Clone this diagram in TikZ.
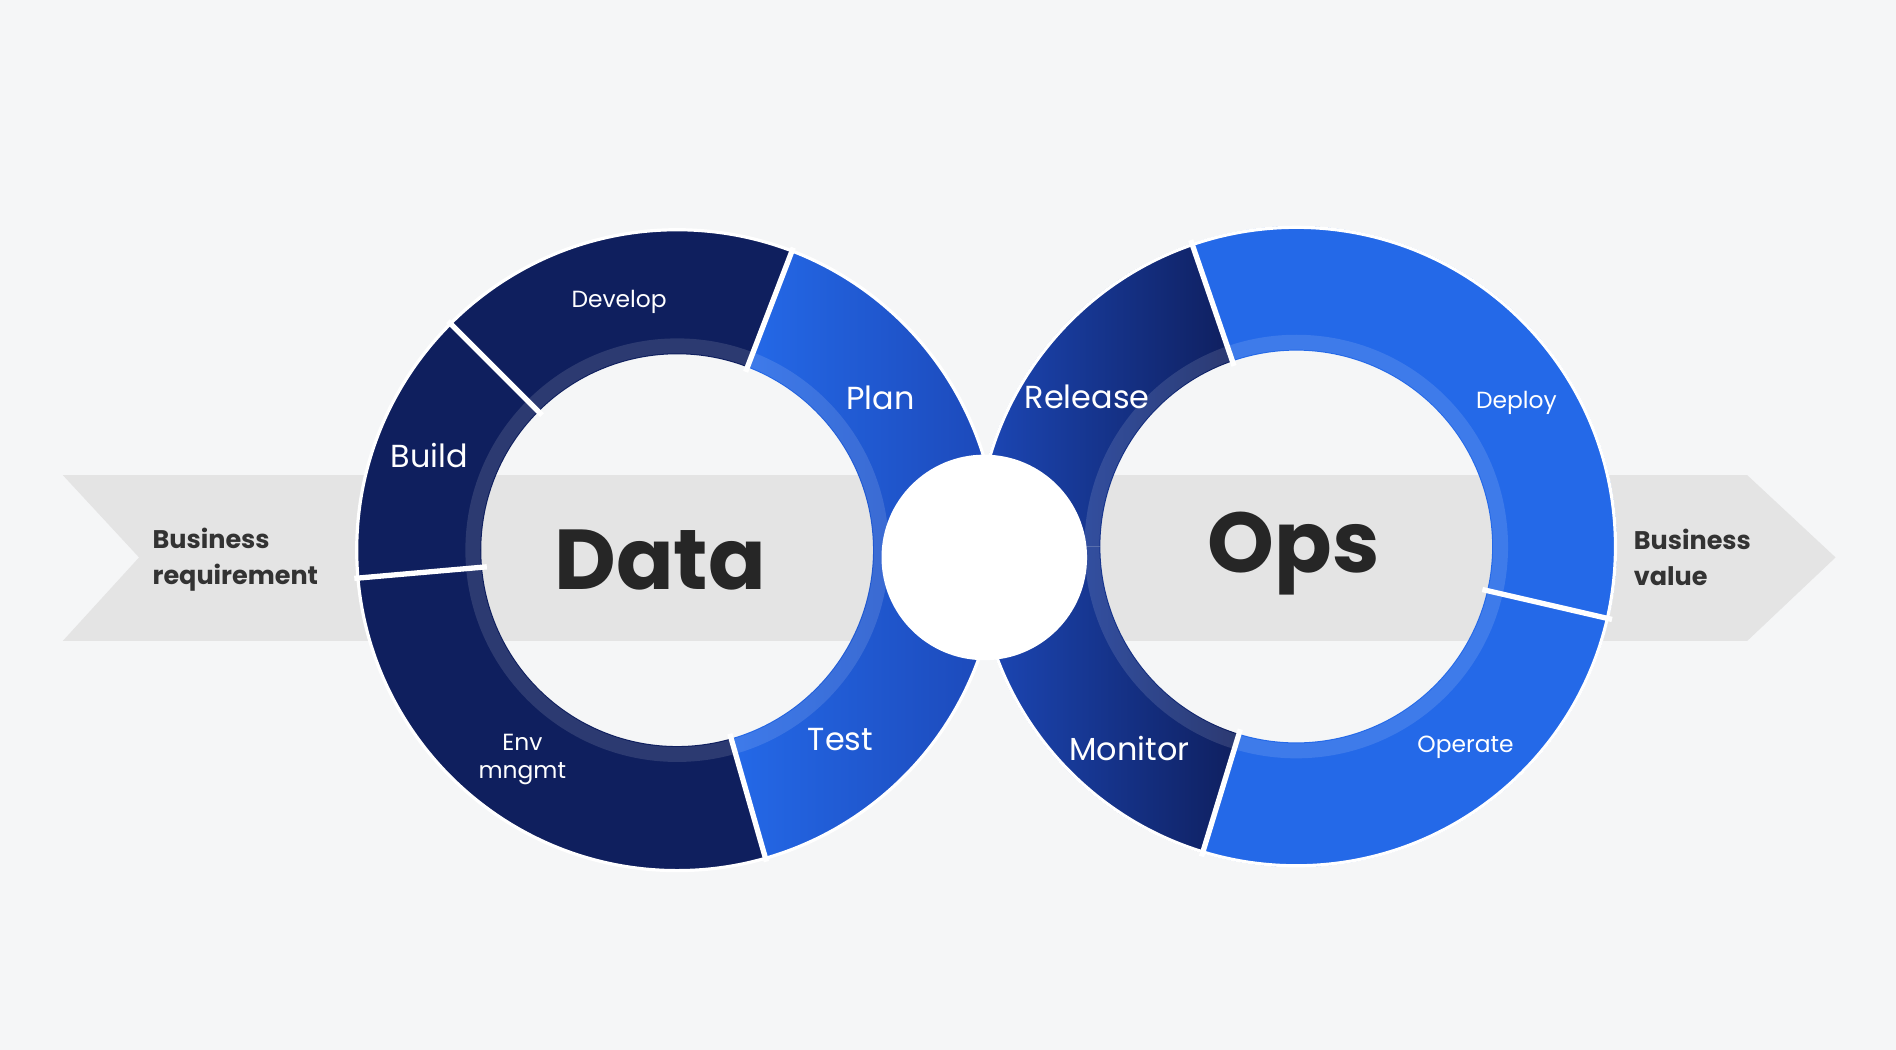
\documentclass[tikz,border=0pt]{standalone}
\usepackage{fontspec}
\setmainfont{Poppins}
\usetikzlibrary{calc}
\definecolor{navy}{HTML}{0F1F5E}
\definecolor{bright}{HTML}{2469E8}
\definecolor{midblue}{HTML}{1C48B8}
\definecolor{bandgray}{HTML}{E4E4E4}
\definecolor{bggray}{HTML}{F5F6F7}
\definecolor{txtgray}{HTML}{333333}
\tikzset{
  seglabel/.style = {text = white, font = \fontsize{11}{13}\selectfont},
  biglabel/.style = {text = white, font = \fontsize{15}{17}\selectfont},
  ringtitle/.style = {text = black!85, font = \fontsize{40}{44}\selectfont\bfseries},
  sidelabel/.style = {text = txtgray, font = \fontsize{12}{17}\selectfont\bfseries, align = left, anchor = west},
  cut/.style = {draw = white, line width = 2.5pt},
}
% annular sector: centre, start, end, options
\newcommand{\ringseg}[4]{%
  \path[#4] ($(#1)+(#2:265)$) arc[start angle=#2, end angle=#3, radius=265]
    -- ($(#1)+(#3:162)$) arc[start angle=#3, end angle=#2, radius=162] -- cycle;}
\begin{document}
\begin{tikzpicture}[x = 0.02cm, y = 0.02cm]
  \useasboundingbox (0,0) rectangle (1568,868);
  \fill[bggray] (0,0) rectangle (1568,868);

  \coordinate (L) at (560,413);
  \coordinate (R) at (1072,416);
  \coordinate (M) at (814,407);

  % gray flow band
  \fill[bandgray] (52,475) -- (1445,475) -- (1518,407) -- (1445,338)
    -- (52,338) -- (115,407) -- cycle;

  % left ring
  \ringseg{L}{69}{135}{fill = navy}
  \ringseg{L}{135}{185}{fill = navy}
  \ringseg{L}{185}{286}{fill = navy}
  \ringseg{L}{286}{360}{left color = bright, right color = midblue}
  \ringseg{L}{0}{69}{left color = bright, right color = midblue}
  \draw[white, line width = 1.5pt] (L) circle[radius = 265];
  \draw[white, opacity = 0.12, line width = 7pt] (L) circle[radius = 169];

  % right ring
  \ringseg{R}{109}{180}{left color = midblue, right color = navy}
  \ringseg{R}{180}{253}{left color = midblue, right color = navy}
  \ringseg{R}{253}{347}{fill = bright}
  \ringseg{R}{-13}{109}{fill = bright}
  \draw[white, line width = 1.5pt] (R) circle[radius = 264];
  \draw[white, opacity = 0.12, line width = 7pt] (R) circle[radius = 169];

  % segment cuts
  \foreach \a in {69, 135, 185, 286}
    \draw[cut] ($(L)+(\a:158)$) -- ($(L)+(\a:268)$);
  \foreach \a in {109, 347, 253}
    \draw[cut] ($(R)+(\a:158)$) -- ($(R)+(\a:268)$);

  % centre
  \fill[white] (M) circle[radius = 85];

  % labels
  \node[seglabel] (develop) at (512,618) {Develop};
  \node[biglabel] (build)   at (355,491) {Build};
  \node[biglabel] (plan)    at (728,539) {Plan};
  \node[seglabel, align = center] (env) at (432,240) {Env\\mngmt};
  \node[biglabel] (test)    at (695,256) {Test};
  \node[biglabel] (release) at (899,540) {Release};
  \node[seglabel] (deploy)  at (1254,535) {Deploy};
  \node[seglabel] (operate) at (1212,250) {Operate};
  \node[biglabel] (monitor) at (934,249) {Monitor};
  \node[ringtitle] (data) at (546,405) {Data};
  \node[ringtitle] (ops)  at (1070,410) {Ops};
  \node[sidelabel] (req) at (120,405) {Business\\requirement};
  \node[sidelabel] (val) at (1345,407) {Business\\value};
\end{tikzpicture}
\end{document}
